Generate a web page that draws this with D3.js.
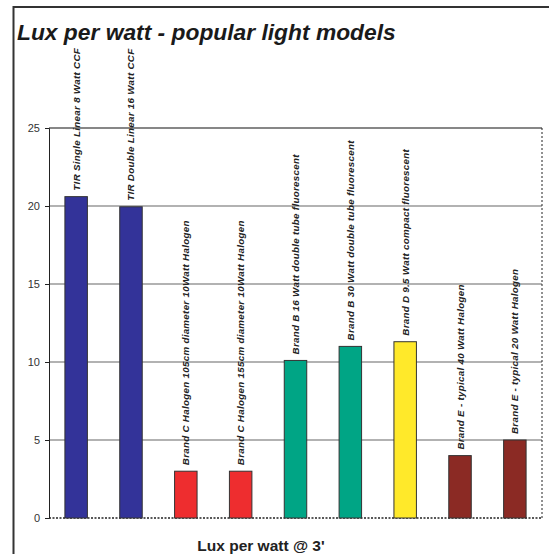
<!DOCTYPE html>
<meta charset="utf-8" />
<style>
    body { margin: 0; background: #fff; }
    text { font-family: Arial, "Liberation Sans", Helvetica, sans-serif; }
</style>
<title>Lux per watt</title>
<body></body>
<script src="https://cdnjs.cloudflare.com/ajax/libs/d3/7.8.5/d3.min.js"></script>
<script>

    // data
    var models = [
        "TIR Single Linear 8 Watt CCF",
        "TIR Double Linear 16 Watt CCF",
        "Brand C Halogen 105cm diameter 10Watt Halogen",
        "Brand C Halogen 155cm diameter 10Watt Halogen",
        "Brand B 16 Watt double tube fluorescent",
        "Brand B 30 Watt double tube fluorescent",
        "Brand D 9.5 Watt compact fluorescent",
        "Brand E - typical 40 Watt Halogen",
        "Brand E - typical 20 Watt Halogen"
    ];
    var luxPerWatt = [20.6, 19.95, 3, 3, 10.1, 11, 11.3, 4, 5];
    var barColors = ["#333399", "#333399", "#ee2d2f", "#ee2d2f", "#00a585", "#00a585", "#ffe92a", "#8b2a24", "#8b2a24"];
    var yTicks = [0, 5, 10, 15, 20, 25];

    var svgWidth = 549, svgHeight = 554;
    var margin = {top: 128, right: 7, bottom: 36, left: 49};
    var width = svgWidth - margin.left - margin.right;
    var height = svgHeight - margin.top - margin.bottom;

    var svg = d3.select("body").append("svg")
        .attr("width", svgWidth)
        .attr("height", svgHeight);

    // outer frame (runs off the right and bottom edges)
    svg.append("path")
        .attr("d", "M13.5,560 L13.5,7 L560,7")
        .attr("fill", "none")
        .attr("stroke", "#333")
        .attr("stroke-width", 2);

    svg.append("text")
        .attr("x", 17)
        .attr("y", 40)
        .style("font-size", "22.8px")
        .style("font-weight", "bold")
        .style("font-style", "italic")
        .attr("fill", "#1a1a1a")
        .text("Lux per watt - popular light models");

    var g = svg.append("g")
        .attr("transform", "translate(" + margin.left + "," + margin.top + ")");

    var x = d3.scaleBand()
        .domain(models)
        .range([0, width])
        .paddingInner(0.59)
        .paddingOuter(0.29);

    var y = d3.scaleLinear()
        .domain([0, 25])
        .range([height, 0]);

    // gridlines
    g.selectAll(".grid")
        .data(yTicks.filter(function (d) { return d > 0; }))
        .enter().append("line")
        .attr("x1", 0)
        .attr("x2", width)
        .attr("y1", function (d) { return y(d); })
        .attr("y2", function (d) { return y(d); })
        .attr("stroke", function (d) { return d == 25 ? "#111" : "#666"; })
        .attr("stroke-width", 1.2);

    // dotted right border and base line
    g.append("line")
        .attr("x1", width).attr("x2", width)
        .attr("y1", 0).attr("y2", height)
        .attr("stroke", "#222")
        .attr("stroke-dasharray", "2,2");
    g.append("line")
        .attr("x1", 0).attr("x2", width)
        .attr("y1", height).attr("y2", height)
        .attr("stroke", "#222")
        .attr("stroke-width", 1.5)
        .attr("stroke-dasharray", "2,1.5");

    // bars
    g.selectAll(".bar")
        .data(luxPerWatt)
        .enter().append("rect")
        .attr("x", function (d, i) { return x(models[i]); })
        .attr("y", function (d) { return y(d); })
        .attr("width", x.bandwidth())
        .attr("height", function (d) { return height - y(d); })
        .attr("fill", function (d, i) { return barColors[i]; })
        .attr("stroke", "#333")
        .attr("stroke-width", 1);

    // rotated labels above each bar
    g.selectAll(".lbl")
        .data(luxPerWatt)
        .enter().append("text")
        .attr("transform", function (d, i) {
            return "translate(" + (x(models[i]) + x.bandwidth() / 2 + 3.5) + "," + (y(d) - 6) + ") rotate(-90)";
        })
        .style("font-size", "9.8px")
        .style("font-style", "italic")
        .style("font-weight", "bold")
        .style("letter-spacing", "0.28px")
        .attr("fill", "#222")
        .text(function (d, i) { return models[i]; });

    // y axis
    var yAxis = g.append("g")
        .call(d3.axisLeft(y).tickValues(yTicks).tickSize(4).tickPadding(5));
    yAxis.select(".domain").attr("stroke", "#222");
    yAxis.selectAll("line").attr("stroke", "#222");
    yAxis.selectAll("text")
        .style("font-size", "11px")
        .attr("fill", "#333");

    svg.append("text")
        .attr("x", 261)
        .attr("y", 551)
        .attr("text-anchor", "middle")
        .style("font-size", "15.5px")
        .style("font-weight", "bold")
        .attr("fill", "#222")
        .text("Lux per watt @ 3'");

</script>
